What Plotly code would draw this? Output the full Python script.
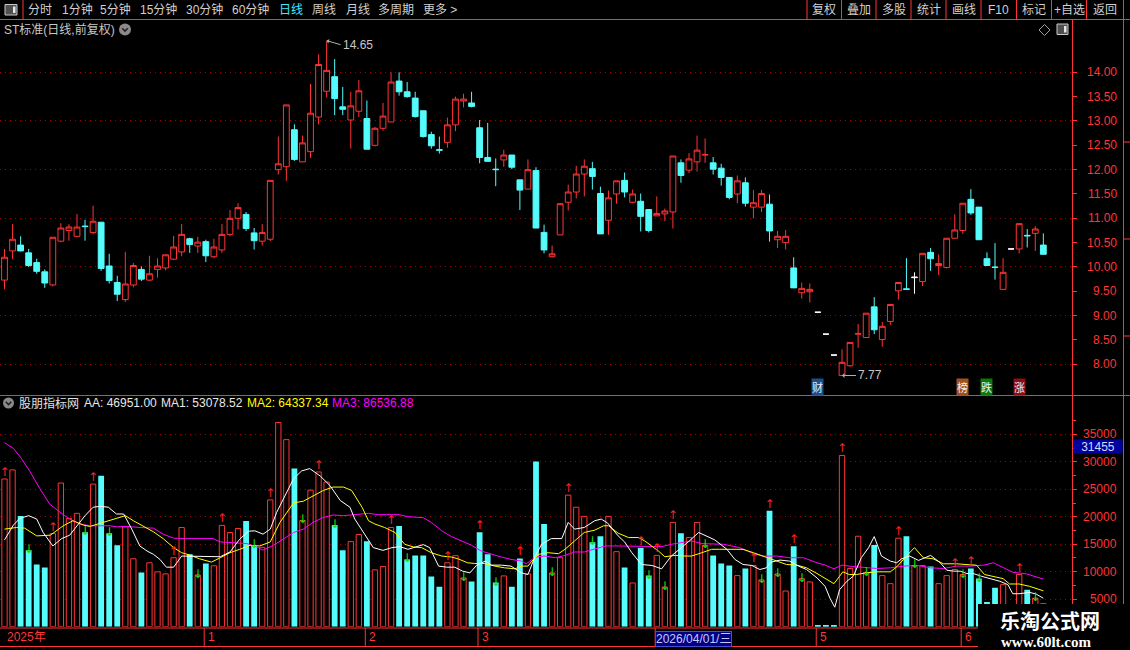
import plotly.graph_objects as go

W, H = 1130, 650
RED = "#ff3434"
CYAN = "#54fcfc"
GRID = "#a00000"
TXT = "#d0d0d0"
FONT = "Liberation Sans, Noto Sans CJK SC, sans-serif"

# ---- daily data, day 0 = first visible bar ----
open_ = [
    9.73, 10.33, 10.45, 10.29, 10.09, 9.90, 9.63, 10.53, 10.75, 10.63,
    10.84, 10.71, 10.92, 10.02, 9.68, 9.33, 9.63, 9.95, 9.73, 9.95,
    9.98, 10.16, 10.31, 10.58, 10.43, 10.52, 10.21, 10.35, 10.67, 11.00,
    11.08, 10.70, 10.53, 10.57, 12.00, 12.06, 12.82, 12.16, 12.37, 13.08,
    13.61, 13.91, 13.29, 13.02, 13.20, 13.05, 12.50, 12.85, 12.98, 13.82,
    13.60, 13.47, 13.21, 12.72, 12.41, 12.56, 12.92, 13.41, 13.37, 12.86,
    12.25, 12.01, 12.20, 12.30, 11.79, 11.60, 11.98, 10.71, 10.21, 10.66,
    11.33, 11.54, 11.91, 12.02, 11.51, 10.96, 11.50, 11.78, 11.33, 11.35,
    11.18, 11.05, 11.09, 11.13, 12.14, 11.99, 12.16, 12.30, 12.14, 12.03,
    11.84, 11.50, 11.73, 11.23, 11.23, 11.29, 10.56, 10.50, 9.98, 9.47,
    9.49, 9.07, 8.62, 8.19, 7.77, 7.97, 8.62, 8.55, 9.18, 8.51,
    8.88, 9.51, 9.55, 9.78, 9.70, 10.30, 10.03, 9.99, 10.59, 10.75,
    11.39, 11.23, 10.17, 10.00, 9.54, 10.37, 10.37, 10.65, 10.69, 10.45,
]
high = [
    10.37, 10.88, 10.63, 10.37, 10.17, 9.95, 10.61, 10.90, 10.88, 11.09,
    10.97, 11.26, 10.92, 10.27, 9.82, 10.31, 10.08, 10.01, 10.23, 10.18,
    10.25, 10.64, 10.88, 10.60, 10.62, 10.56, 10.58, 10.88, 11.17, 11.31,
    11.13, 10.80, 10.88, 11.78, 12.68, 13.33, 12.93, 12.70, 13.76, 14.37,
    14.65, 14.27, 13.70, 13.60, 13.84, 13.42, 12.88, 13.37, 14.00, 14.00,
    13.80, 13.60, 13.21, 12.78, 12.68, 13.07, 13.50, 13.56, 13.60, 13.02,
    12.96, 12.23, 12.41, 12.30, 11.79, 12.21, 12.05, 10.87, 10.44, 11.30,
    11.69, 12.08, 12.21, 12.16, 11.65, 11.57, 11.77, 11.94, 11.59, 11.51,
    11.18, 11.45, 11.20, 12.28, 12.21, 12.34, 12.70, 12.64, 12.26, 12.12,
    11.84, 11.88, 11.84, 11.58, 11.58, 11.49, 10.74, 10.76, 10.20, 9.68,
    9.66, 9.07, 8.62, 8.19, 8.31, 8.45, 8.83, 9.05, 9.38, 8.87,
    9.23, 9.68, 10.18, 9.89, 10.28, 10.39, 10.26, 10.59, 11.08, 11.31,
    11.60, 11.23, 10.30, 10.49, 10.18, 10.37, 10.89, 10.78, 10.84, 10.69,
]
low = [
    9.54, 10.16, 10.32, 10.00, 9.86, 9.57, 9.60, 10.51, 10.54, 10.63,
    10.54, 10.67, 9.92, 9.66, 9.30, 9.28, 9.58, 9.71, 9.71, 9.78,
    9.93, 10.15, 10.22, 10.29, 10.29, 10.10, 10.18, 10.29, 10.63, 10.77,
    10.74, 10.36, 10.44, 10.53, 11.90, 11.77, 12.18, 12.16, 12.24, 12.93,
    13.48, 13.12, 13.12, 12.43, 13.08, 12.42, 12.48, 12.80, 12.98, 13.52,
    13.48, 13.07, 12.66, 12.43, 12.33, 12.45, 12.79, 13.28, 13.28, 12.13,
    12.17, 11.66, 12.06, 12.01, 11.17, 11.60, 10.80, 10.28, 10.19, 10.66,
    11.16, 11.41, 11.45, 11.59, 10.68, 10.66, 11.30, 11.43, 11.31, 10.73,
    10.71, 11.05, 10.94, 10.79, 11.73, 11.93, 11.96, 12.14, 11.90, 11.67,
    11.39, 11.31, 11.24, 11.00, 11.13, 10.52, 10.39, 10.36, 9.57, 9.35,
    9.27, 9.07, 8.62, 8.19, 7.77, 7.95, 8.34, 8.55, 8.62, 8.36,
    8.81, 9.33, 9.54, 9.45, 9.61, 9.92, 9.83, 9.97, 10.59, 10.68,
    11.07, 10.56, 10.03, 9.74, 9.54, 10.37, 10.28, 10.40, 10.33, 10.26,
]
close = [
    10.20, 10.57, 10.33, 10.03, 9.91, 9.67, 10.61, 10.80, 10.82, 10.82,
    10.83, 10.94, 9.97, 9.72, 9.44, 9.65, 10.03, 9.75, 9.86, 10.02,
    10.25, 10.41, 10.67, 10.46, 10.51, 10.23, 10.41, 10.67, 11.00, 11.22,
    10.79, 10.54, 10.71, 11.78, 12.12, 13.33, 12.21, 12.55, 13.16, 14.16,
    14.04, 13.46, 13.24, 13.31, 13.62, 12.42, 12.85, 13.10, 13.80, 13.60,
    13.50, 13.09, 12.68, 12.49, 12.40, 12.92, 13.45, 13.45, 13.30, 12.25,
    12.17, 12.00, 12.30, 12.05, 11.58, 12.00, 10.80, 10.35, 10.27, 11.30,
    11.54, 11.91, 12.07, 11.86, 10.68, 11.42, 11.77, 11.54, 11.50, 11.04,
    10.75, 11.10, 11.15, 12.28, 11.88, 12.22, 12.40, 12.31, 12.01, 11.84,
    11.43, 11.77, 11.31, 11.32, 11.51, 10.74, 10.63, 10.63, 9.57, 9.56,
    9.54, 9.07, 8.62, 8.19, 8.04, 8.45, 8.63, 9.05, 8.71, 8.78,
    9.23, 9.68, 9.54, 9.79, 10.28, 10.17, 10.07, 10.59, 10.76, 11.31,
    11.11, 10.56, 10.03, 9.99, 9.89, 10.37, 10.89, 10.64, 10.78, 10.26,
]
volume = [
    26870, 28520, 20135, 13890, 11320, 10770, 16950, 26130, 19700, 20620,
    17200, 25950, 27480, 17010, 14810, 18180, 12360, 9850, 11630, 9975,
    9610, 12550, 18050, 13160, 9420, 11500, 11080, 18420, 17140, 17870,
    19220, 14870, 14440, 23070, 37150, 34030, 28760, 19340, 24850, 28150,
    26320, 18480, 13890, 15480, 16770, 15545, 10340, 10955, 18050, 18300,
    12240, 12975, 12975, 9120, 7280, 11630, 12910, 8870, 8200, 17200,
    13160, 8020, 9240, 7280, 12420, 9610, 30050, 18670, 9790, 12550,
    23930, 21730, 20070, 15360, 16460, 20070, 13650, 10770, 7960, 14380,
    9300, 12975, 7220, 18970, 17010, 16220, 18970, 14810, 12975, 11500,
    11140, 9300, 10590, 11140, 8510, 21110, 9610, 6490, 14630, 8750,
    8140, 300, 300, 300, 31150, 10590, 16460, 9850, 14870, 9300,
    7830, 16100, 16460, 11140, 11140, 10950, 7830, 9300, 10400, 9490,
    10590, 8750, 4500, 7100, 7650, 3000, 9490, 6730, 5200, 4200,
]
days = list(range(len(close)))

# one-price / unchanged days drawn in white
white_days = [101, 102, 103, 113, 125]

# signal arrows on the volume pane
up_arrow_days = [0, 6, 11, 21, 27, 33, 39, 48, 55, 59, 64, 70, 79, 81, 83,
                 93, 95, 98, 104, 111, 118, 120, 126]
down_arrow_days = [3, 10, 13, 24, 31, 37, 41, 50, 57, 61, 68, 73, 80, 82, 87,
                   94, 96, 99, 107, 113, 119, 121, 128]

# volume moving averages (day, value)
ma1_pts = [
    (0, 15790), (1.1, 18480), (1.9, 19700), (3.0, 20200), (4.0, 19580), (4.8, 17140),
    (6.0, 14690), (7.1, 16030), (8.1, 16650), (9.0, 18360), (10.0, 20200), (11.0, 21730),
    (11.9, 21910), (12.9, 21730), (13.9, 20500), (14.8, 20500), (15.8, 17750), (16.8, 14690),
    (17.7, 13770), (18.5, 13160), (19.3, 12240), (20.1, 10830), (21.0, 10830), (22.0, 12850),
    (23.0, 12850), (24.7, 12850), (25.9, 12850), (26.8, 12730), (28.0, 13590), (29.2, 15910),
    (30.3, 17380), (31.1, 17440), (32.1, 16830), (33.0, 17750), (33.8, 20810), (35.0, 24480),
    (35.9, 26930), (36.9, 28340), (37.9, 28760), (39.2, 27420), (40.4, 25700), (41.7, 22950),
    (42.9, 21730), (43.5, 19580), (44.8, 16520), (45.8, 14380), (47.0, 13890), (48.1, 14380),
    (49.1, 14570), (50.1, 14080), (52.0, 14930), (52.8, 14380), (53.9, 11020), (54.9, 10830),
    (55.9, 10830), (56.9, 10100), (57.8, 9790), (58.6, 11140), (59.7, 11930), (60.5, 11200),
    (61.7, 11200), (62.9, 11020), (64.2, 9790), (65.0, 9490), (65.9, 12850), (66.7, 14990),
    (67.9, 16030), (69.2, 16030), (70.0, 18970), (70.8, 17750), (72.0, 18050), (73.3, 19280),
    (74.1, 19580), (74.9, 18850), (76.2, 16520), (77.0, 15420), (77.9, 13460), (79.1, 11320),
    (80.4, 11140), (81.6, 10530), (82.8, 12850), (84.1, 14380), (84.9, 15420), (86.2, 17140),
    (87.2, 16400), (88.2, 15790), (89.7, 14080), (90.7, 12240), (91.7, 11320), (92.8, 11140),
    (93.8, 10400), (94.6, 10710), (95.2, 11750), (96.3, 12120), (97.5, 11930), (98.6, 11020),
    (99.6, 10400), (100.9, 8870), (101.9, 7340), (102.5, 5200), (103.1, 3550), (103.7, 6730),
    (104.6, 8260), (105.4, 9180), (106.4, 12550), (107.3, 14380), (108.0, 16400), (108.9, 12850),
    (110.0, 11930), (110.8, 11630), (111.4, 12360), (112.4, 12850), (113.5, 12060), (115.0, 12970),
    (116.2, 11630), (117.0, 10280), (117.9, 10100), (118.7, 10100), (119.5, 9670), (120.3, 9670),
    (121.3, 9180), (122.4, 8690), (123.6, 8260), (124.6, 7650), (125.2, 6000), (126.0, 6000),
    (127.3, 6240), (128.1, 5940), (128.7, 5390), (129.0, 5180),
]
ma2_pts = [
    (0, 17750), (1.5, 18050), (2.5, 17930), (4.0, 16520), (5.7, 16650), (7.3, 18360),
    (8.5, 19280), (9.8, 18480), (10.6, 18240), (11.9, 18790), (13.1, 19400), (14.1, 19700),
    (15.0, 20200), (16.0, 19280), (17.2, 18240), (18.5, 17260), (19.7, 16030), (21.0, 14380),
    (22.0, 13460), (23.0, 13040), (24.2, 12360), (25.7, 11750), (26.8, 12550), (28.0, 13460),
    (29.2, 14080), (30.5, 14810), (31.7, 14690), (33.0, 15420), (34.2, 18970), (35.9, 22520),
    (37.1, 22830), (38.3, 23750), (39.6, 24790), (40.8, 25400), (42.1, 25400), (43.1, 24790),
    (44.4, 21730), (45.2, 19280), (46.0, 18670), (47.2, 18050), (48.5, 17140), (49.7, 14990),
    (50.8, 14500), (51.8, 14380), (53.0, 13460), (54.3, 12850), (55.5, 12670), (56.3, 12360),
    (57.5, 11630), (58.4, 11500), (59.6, 11500), (60.9, 11020), (62.1, 10710), (63.4, 10530),
    (64.2, 11020), (65.0, 11020), (65.5, 11930), (66.3, 13160), (67.5, 13460), (68.8, 13280),
    (69.6, 14080), (70.8, 15610), (72.0, 17140), (73.3, 17560), (74.4, 18360), (75.0, 18360),
    (76.2, 17010), (77.5, 16220), (78.7, 16220), (79.5, 15610), (80.4, 14690), (81.2, 13770),
    (82.0, 12730), (83.3, 12970), (84.5, 12850), (85.3, 12850), (86.6, 13460), (87.8, 14080),
    (88.8, 14080), (90.1, 14080), (91.7, 14080), (93.0, 13460), (94.2, 12850), (95.9, 11930),
    (97.1, 11320), (98.4, 11200), (99.6, 10710), (100.9, 9670), (102.1, 8570), (103.0, 7830),
    (103.7, 9180), (104.1, 9980), (104.9, 9490), (105.8, 9490), (107.0, 9790), (108.3, 9980),
    (110.0, 9980), (110.8, 10890), (112.0, 12850), (113.0, 14380), (114.1, 12550), (115.3, 12360),
    (116.6, 11440), (118.2, 11440), (119.9, 11260), (120.7, 11200), (121.7, 9490), (122.8, 9180),
    (124.0, 8750), (124.8, 7770), (126.0, 7770), (127.3, 7340), (128.7, 6730), (129.0, 6525),
]
ma3_pts = [
    (0, 33480), (1.1, 32440), (2.1, 30600), (3.2, 28150), (4.4, 25090), (5.6, 22340),
    (6.9, 20810), (8.1, 19580), (9.4, 18670), (10.6, 18360), (11.9, 18360), (13.1, 18360),
    (13.9, 18180), (15.2, 18240), (16.8, 18050), (18.5, 17930), (19.7, 16830), (21.0, 16100),
    (22.6, 16030), (24.3, 16030), (25.9, 16030), (26.8, 15420), (28.4, 15300), (30.1, 15120),
    (31.3, 14500), (32.1, 13950), (33.4, 14810), (34.6, 15910), (35.9, 17140), (37.1, 17750),
    (38.3, 18970), (39.6, 19890), (40.8, 20320), (42.1, 20200), (43.3, 20320), (44.1, 20500),
    (45.2, 20620), (46.4, 20380), (47.7, 20380), (49.0, 20380), (50.1, 20010), (52.0, 19830),
    (53.0, 18970), (54.3, 17440), (55.5, 16400), (56.8, 15610), (58.0, 14810), (59.2, 13770),
    (60.5, 13160), (61.7, 12670), (62.9, 12240), (64.2, 11930), (64.8, 11440), (65.9, 12670),
    (67.1, 12850), (68.4, 12550), (69.6, 12970), (70.8, 13590), (72.0, 13590), (73.3, 14080),
    (74.6, 14690), (75.8, 14690), (77.0, 14690), (78.7, 14690), (80.4, 14690), (81.6, 14570),
    (82.8, 14990), (84.1, 15300), (85.3, 15610), (86.6, 15120), (88.2, 15120), (89.3, 14990),
    (91.3, 14380), (93.0, 13280), (94.2, 12850), (95.9, 12850), (97.5, 12550), (99.2, 12550),
    (100.9, 11630), (101.9, 11200), (103.0, 10530), (104.0, 11200), (104.9, 11020), (106.6, 10830),
    (108.3, 10590), (110.0, 10710), (111.7, 11020), (113.3, 11140), (115.0, 10710), (116.6, 10590),
    (118.2, 11020), (119.9, 11020), (121.6, 11200), (122.8, 11630), (124.0, 10710), (125.2, 9910),
    (126.9, 9610), (128.7, 8870), (129.0, 8660),
]

price_ticks = [8.0, 8.5, 9.0, 9.5, 10.0, 10.5, 11.0, 11.5, 12.0, 12.5, 13.0, 13.5, 14.0]
vol_ticks = [5000, 10000, 15000, 20000, 25000, 30000, 35000]
vol_minor = [2500, 7500, 12500, 17500, 22500, 27500, 32500, 37500]

date_labels = ["2025年", "1", "2", "3", "5", "6"]
date_days = [0, 25, 45, 59, 101, 119]
cursor_label = "2026/04/01/三"
cursor_day = 81

event_labels = ["财", "榜", "跌", "涨"]
event_days = [101, 119, 122, 126]

tabs = ["分时", "1分钟", "5分钟", "15分钟", "30分钟", "60分钟", "日线", "周线", "月线", "多周期", "更多 >"]
buttons = ["复权", "叠加", "多股", "统计", "画线", "F10", "标记", "+自选", "返回"]

indicator_title = "股朋指标网"
indicator_vals = ["AA: 46951.00", "MA1: 53078.52", "MA2: 64337.34", "MA3: 86536.88"]


def px(x):
    return x / W


def py(y):
    return 1 - y / H


def line(x0, y0, x1, y1, color=RED, width=1):
    return dict(type="line", xref="paper", yref="paper", x0=px(x0), y0=py(y0),
                x1=px(x1), y1=py(y1), line=dict(color=color, width=width), layer="above")


fig = go.Figure()

# ---- candles ----
main = [d for d in days if d not in white_days]
fig.add_trace(go.Candlestick(
    x=main, open=[open_[d] for d in main], high=[high[d] for d in main],
    low=[low[d] for d in main], close=[close[d] for d in main],
    increasing=dict(line=dict(color=RED, width=1), fillcolor="#000000"),
    decreasing=dict(line=dict(color=CYAN, width=1), fillcolor=CYAN),
    hoverinfo="skip", xaxis="x", yaxis="y",
))
fig.add_trace(go.Candlestick(
    x=white_days, open=[open_[d] for d in white_days], high=[high[d] for d in white_days],
    low=[low[d] for d in white_days], close=[close[d] for d in white_days],
    increasing=dict(line=dict(color="#ffffff", width=1), fillcolor="#ffffff"),
    decreasing=dict(line=dict(color="#ffffff", width=1), fillcolor="#ffffff"),
    hoverinfo="skip", xaxis="x", yaxis="y",
))

# ---- volume bars ----
up = [d for d in days if close[d] > open_[d]]
dn = [d for d in days if close[d] <= open_[d]]
fig.add_trace(go.Bar(x=up, y=[volume[d] for d in up], width=0.66,
                     marker=dict(color="#000000", line=dict(color=RED, width=1)),
                     hoverinfo="skip", xaxis="x2", yaxis="y2"))
fig.add_trace(go.Bar(x=dn, y=[volume[d] for d in dn], width=0.72,
                     marker=dict(color=CYAN, line=dict(width=0)),
                     hoverinfo="skip", xaxis="x2", yaxis="y2"))

for pts, col in [(ma3_pts, "#ff00ff"), (ma2_pts, "#ffff00"), (ma1_pts, "#ffffff")]:
    xs, ys = zip(*pts)
    fig.add_trace(go.Scatter(x=list(xs), y=list(ys), mode="lines",
                             line=dict(color=col, width=1), hoverinfo="skip",
                             xaxis="x2", yaxis="y2"))

fig.add_trace(go.Scatter(x=up_arrow_days, y=[volume[d] for d in up_arrow_days], mode="text",
                         text=["↑"] * len(up_arrow_days), textposition="top center",
                         textfont=dict(color="#ff2020", size=12, family="DejaVu Sans"),
                         hoverinfo="skip", xaxis="x2", yaxis="y2"))
fig.add_trace(go.Scatter(x=down_arrow_days, y=[volume[d] for d in down_arrow_days], mode="text",
                         text=["↓"] * len(down_arrow_days), textposition="middle center",
                         textfont=dict(color="#10e010", size=12, family="DejaVu Sans"),
                         hoverinfo="skip", xaxis="x2", yaxis="y2"))

# ---- shapes ----
shapes = [
    line(0, 19.5, W, 19.5),
    line(23, 0, 23, 19.5),
    line(1072.5, 19.5, 1072.5, 628),
    line(1123.5, 0, 1123.5, H),
    line(0, 395.5, W, 395.5),
    line(0, 628, W, 628),
    line(0, 646.5, W, 646.5),
]
for xsep in [807, 841.5, 876, 911, 946, 981, 1016.5, 1051.5, 1086.5]:
    shapes.append(line(xsep, 0, xsep, 19.5))
for ysep in [142, 239, 336]:
    shapes.append(line(1123.5, ysep, W, ysep))
for d in date_days[1:] + [cursor_day]:
    shapes.append(dict(type="line", xref="x2", yref="paper", x0=d - 0.2, x1=d - 0.2,
                       y0=py(628), y1=py(646.5), line=dict(color=RED, width=1), layer="above"))

# small icons
for (x0, y0, x1, y1) in [(5, 4.5, 17, 15), (1057, 24, 1068, 34.5)]:
    shapes.append(dict(type="rect", xref="paper", yref="paper", x0=px(x0), y0=py(y1),
                       x1=px(x1), y1=py(y0), fillcolor="#505050",
                       line=dict(color="#c8c8c8", width=1), layer="above"))
    shapes.append(dict(type="rect", xref="paper", yref="paper", x0=px(x1 - 4), y0=py(y1 - 2),
                       x1=px(x1 - 1.5), y1=py(y0 + 2), fillcolor="#e8e8e8",
                       line=dict(width=0), layer="above"))
for (cx, cy, r) in [(125, 29.5, 6), (8.5, 403, 5.5)]:
    shapes.append(dict(type="circle", xref="paper", yref="paper", x0=px(cx - r), x1=px(cx + r),
                       y0=py(cy + r), y1=py(cy - r), fillcolor="#8a8a8a",
                       line=dict(width=0), layer="above"))
    shapes.append(dict(type="path", xref="paper", yref="paper",
                       path=f"M {px(cx - 2.8)} {py(cy - 1.2)} L {px(cx)} {py(cy + 1.6)} L {px(cx + 2.8)} {py(cy - 1.2)}",
                       line=dict(color="#202020", width=1.5), layer="above"))
# diamond
shapes.append(dict(type="path", xref="paper", yref="paper",
                   path=f"M {px(1044.5)} {py(24.5)} L {px(1050)} {py(30)} L {px(1044.5)} {py(35.5)} L {px(1039)} {py(30)} Z",
                   line=dict(color="#a0a0a0", width=1), layer="above"))
# watermark panel
shapes.append(dict(type="rect", xref="paper", yref="paper", x0=px(978), x1=px(W),
                   y0=py(H), y1=py(604), fillcolor="#000000", line=dict(width=0), layer="above"))

# ---- annotations ----
ann = []


def text(x, y, s, color=TXT, size=12, xanchor="left", family=FONT, **kw):
    ann.append(dict(x=px(x), y=py(y), xref="paper", yref="paper", text=s, showarrow=False,
                    xanchor=xanchor, yanchor="middle",
                    font=dict(color=color, size=size, family=family), **kw))


tab_x = [39.5, 77, 115.5, 158.5, 204.5, 250, 290.5, 323.5, 357.5, 396, 439.5]
for s, x in zip(tabs, tab_x):
    text(x, 10, s, color="#40e8ff" if s == "日线" else TXT, xanchor="center")
btn_x = [824, 858.8, 893.5, 928.5, 963.5, 998.8, 1034, 1069, 1104.8]
for s, x in zip(buttons, btn_x):
    text(x, 10, s, xanchor="center")

text(2, 29.5, "ST标准(日线,前复权)", color="#c8c8c8")

text(17, 403, indicator_title, color="#e0e0e0")
for s, x, c in zip(indicator_vals, [82, 159, 245, 330], ["#e8e8e8", "#e8e8e8", "#ffff00", "#ff00ff"]):
    text(x, 403, s, color=c)

# price axis labels
for v in price_ticks:
    ann.append(dict(x=px(1119), y=v, xref="paper", yref="y", text=f"{v:.2f}", showarrow=False,
                    xanchor="right", yanchor="middle",
                    font=dict(color=RED, size=12, family="Liberation Sans")))
# volume axis labels
for v in vol_ticks:
    ann.append(dict(x=px(1119), y=v, xref="paper", yref="y2", text=f"{v}", showarrow=False,
                    xanchor="right", yanchor="middle",
                    font=dict(color=RED, size=12, family="Liberation Sans")))
text(1097.5, 446.5, "31455", color="#d8d8ff", xanchor="center", bgcolor="#0000a0",
     width=48, height=13, borderpad=0)

# high / low markers
hi_day = high.index(max(high))
lo_day = low.index(min(low))
for d, v, ay in [(hi_day, high[hi_day], 4), (lo_day, low[lo_day], 0)]:
    ann.append(dict(x=d, y=v, xref="x", yref="y", text=f"{v:.2f}", showarrow=True,
                    arrowhead=1, arrowsize=0.8, arrowwidth=1, arrowcolor="#b0b0b0",
                    ax=14, ay=ay, xanchor="left", yanchor="middle",
                    font=dict(color="#c8c8c8", size=12, family="Liberation Sans")))

# event tags
for s, d, bg in zip(event_labels, event_days, ["#1c4e8c", "#a0521e", "#0a7a0a", "#8a1010"]):
    ann.append(dict(x=d, y=py(387), xref="x", yref="paper", text=s, showarrow=False,
                    xanchor="center", yanchor="middle", bgcolor=bg, borderpad=0,
                    font=dict(color="#f0f0f0", size=11, family="Noto Sans CJK SC")))

# date strip
for s, d in zip(date_labels, date_days):
    ann.append(dict(x=d, y=py(637), xref="x2", yref="paper", text=s, showarrow=False,
                    xanchor="left", yanchor="middle",
                    font=dict(color=RED, size=12, family=FONT)))
ann.append(dict(x=cursor_day - 0.2, y=py(638.5), xref="x2", yref="paper", text=cursor_label,
                showarrow=False, xanchor="left", yanchor="middle", bgcolor="#000080",
                bordercolor="#4a4ad0", borderwidth=1, borderpad=0,
                font=dict(color="#c8c8ff", size=12, family=FONT)))

# watermark text
ann.append(dict(x=px(1050), y=py(620.5), xref="paper", yref="paper", text="<b>乐淘公式网</b>",
                showarrow=False, xanchor="center", yanchor="middle",
                font=dict(color="#ffffff", size=20, family="Noto Sans CJK SC")))
ann.append(dict(x=px(1046), y=py(641.5), xref="paper", yref="paper", text="<b>www.60lt.com</b>",
                showarrow=False, xanchor="center", yanchor="middle",
                font=dict(color="#ffffff", size=15, family="Liberation Serif")))

xr = [-0.559, 132.56]
fig.update_layout(
    width=W, height=H, margin=dict(l=0, r=0, t=0, b=0),
    paper_bgcolor="#000000", plot_bgcolor="#000000",
    showlegend=False, barmode="overlay", boxgap=0.28, boxgroupgap=0,
    xaxis=dict(domain=[0, px(1072)], range=xr, visible=False,
               rangeslider=dict(visible=False), anchor="y"),
    yaxis=dict(domain=[py(395), py(20)], range=[7.369, 15.075], side="right", anchor="x",
               tickvals=[v for v in price_ticks if v == int(v)], showticklabels=False,
               ticks="outside", ticklen=4, tickcolor=RED,
               showgrid=True, gridcolor=GRID, griddash="1px,4px", gridwidth=1,
               minor=dict(tickvals=[v for v in price_ticks if v != int(v)], ticks="outside",
                          ticklen=4, tickcolor=RED, showgrid=False),
               zeroline=False, showline=False),
    xaxis2=dict(domain=[0, px(1072)], range=xr, visible=False, anchor="y2"),
    yaxis2=dict(domain=[py(626.7), py(400)], range=[0, 41240], side="right", anchor="x2",
                tickvals=vol_ticks, showticklabels=False, ticks="outside", ticklen=4,
                tickcolor=RED, showgrid=True, gridcolor=GRID, griddash="1px,4px", gridwidth=1,
                minor=dict(tickvals=vol_minor, ticks="outside", ticklen=3, tickcolor=RED,
                           showgrid=False),
                zeroline=False, showline=False),
    shapes=shapes, annotations=ann,
)

fig.write_html("out.html", config={"displayModeBar": False},
               post_script="document.body.style.margin='0';document.body.style.background='#000';")
